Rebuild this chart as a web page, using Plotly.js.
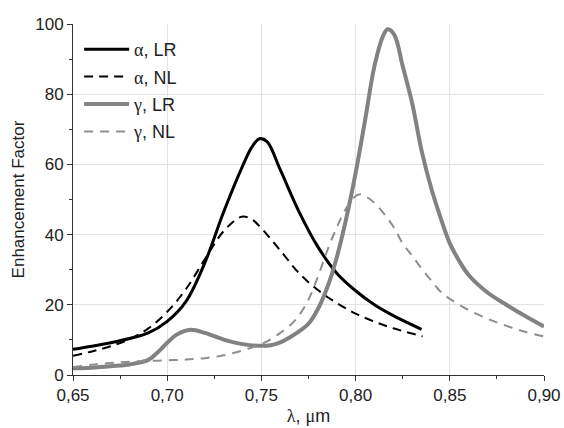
<!DOCTYPE html>
<html><head><meta charset="utf-8">
<script src="https://cdn.plot.ly/plotly-3.0.1.min.js"></script>
<style>html,body{margin:0;padding:0;background:#fff;}#chart{width:564px;height:428px;}</style>
</head><body><div id="chart"></div>
<script>
// α, LR (black solid)
const aLR_x = [0.65,0.66,0.67,0.68,0.69,0.70,0.71,0.72,0.73,0.74,0.745,0.749,0.753,0.76,0.77,0.78,0.79,0.80,0.81,0.82,0.835];
const aLR_y = [7.3,8.2,9.2,10.4,12.0,15.3,21.0,32.0,46.5,59.5,65.0,67.3,66.5,58.5,46.5,36.5,29.0,24.0,20.0,16.9,13.0];
// α, NL (black dashed)
const aNL_x = [0.65,0.66,0.67,0.68,0.69,0.70,0.71,0.72,0.73,0.7395,0.745,0.75,0.76,0.77,0.78,0.79,0.80,0.81,0.82,0.8356];
const aNL_y = [5.5,6.7,8.2,10.2,13.3,18.0,24.5,33.0,41.0,45.1,44.3,41.8,35.5,29.0,24.2,20.5,17.5,15.2,13.3,11.0];
// γ, LR (grey solid)
const gLR_x = [0.65,0.66,0.67,0.68,0.69,0.695,0.70,0.705,0.7125,0.72,0.73,0.74,0.75,0.755,0.76,0.765,0.77,0.775,0.78,0.785,0.79,0.795,0.80,0.805,0.81,0.8145,0.817,0.8205,0.825,0.83,0.835,0.84,0.845,0.85,0.855,0.86,0.87,0.88,0.89,0.90];
const gLR_y = [1.9,2.1,2.5,3.0,4.3,6.5,9.2,11.5,12.9,12.0,10.1,8.8,8.3,8.5,9.3,10.7,12.4,14.6,18.8,25.0,33.5,44.5,57.5,72.5,88.0,96.5,98.5,97.0,88.0,77.5,64.0,53.5,45.0,37.5,32.5,28.5,23.5,20.0,16.8,13.8];
// γ, NL (grey dashed)
const gNL_x = [0.65,0.66,0.67,0.68,0.69,0.70,0.71,0.72,0.73,0.74,0.75,0.755,0.76,0.765,0.77,0.775,0.78,0.785,0.79,0.795,0.80,0.8025,0.806,0.81,0.815,0.82,0.825,0.83,0.835,0.84,0.845,0.85,0.86,0.87,0.88,0.89,0.90];
const gNL_y = [2.3,2.9,3.4,3.8,4.0,4.2,4.4,4.8,5.6,7.0,8.8,10.2,12.0,14.0,17.0,21.5,28.0,35.5,42.0,47.5,51.0,51.5,50.7,49.0,46.0,42.3,37.5,34.0,30.3,27.0,23.8,21.7,18.5,16.0,14.0,12.3,11.0];
// grid / tick positions
const xGrid = [0.70,0.75,0.80,0.85];
const yGrid = [20,40,60,80];

const serif = s => `<span style="font-family:'Liberation Serif',serif">${s}</span>`;
const base = {type:'scatter', mode:'lines', hoverinfo:'skip'};
const traces = [
  Object.assign({}, base, {x:aLR_x, y:aLR_y, name:serif('α')+', LR', legendgroup:'a', line:{color:'#000000', width:3, shape:'spline', smoothing:1}}),
  Object.assign({}, base, {x:aNL_x, y:aNL_y, name:serif('α')+', NL', legendgroup:'b', line:{color:'#000000', width:2, dash:'9px,6px', shape:'spline', smoothing:1}}),
  Object.assign({}, base, {x:gLR_x, y:gLR_y, name:serif('γ')+', LR', legendgroup:'c', line:{color:'#828282', width:4, shape:'spline', smoothing:1}}),
  Object.assign({}, base, {x:gNL_x, y:gNL_y, name:serif('γ')+', NL', legendgroup:'d', line:{color:'#8e8e8e', width:2, dash:'9px,7px', shape:'spline', smoothing:1}}),
  {type:'scatter', x:[], y:[], xaxis:'x2', yaxis:'y2', showlegend:false, hoverinfo:'skip'}
];
const font = {family:"'Liberation Sans', Arial, sans-serif", color:'#222'};
const layout = {
  width:564, height:428,
  margin:{l:73, r:20, t:24, b:53},
  paper_bgcolor:'#fff', plot_bgcolor:'rgba(0,0,0,0)',
  separators:', ',
  font:font,
  showlegend:true,
  legend:{x:0.013, y:0.98, xanchor:'left', yanchor:'top', bgcolor:'rgba(0,0,0,0)', font:{size:18, family:font.family, color:'#222'}, tracegroupgap:1, itemwidth:45},
  xaxis:{range:[0.65,0.90], showgrid:false, zeroline:false, showline:true, linecolor:'#333', linewidth:1,
    tickmode:'linear', tick0:0.65, dtick:0.05, tickformat:'.2f', ticks:'outside', ticklen:5, tickcolor:'#333',
    minor:{dtick:0.025, tick0:0.65, ticks:'outside', ticklen:3, tickcolor:'#333', showgrid:false},
    tickfont:{size:17}, title:{text:serif('λ')+', '+serif('μ')+'m', font:{size:18}, standoff:4}},
  yaxis:{range:[0,100], showgrid:false, zeroline:false, showline:true, linecolor:'#333', linewidth:1,
    tickmode:'linear', tick0:0, dtick:20, ticks:'outside', ticklen:5, tickcolor:'#333',
    minor:{dtick:10, tick0:0, ticks:'outside', ticklen:3, tickcolor:'#333', showgrid:false},
    tickfont:{size:17}, title:{text:'Enhancement Factor', font:{size:17}, standoff:6}},
  xaxis2:{overlaying:'x', range:[0.65,0.90], tickmode:'array', tickvals:xGrid, showticklabels:false, ticks:'', showline:false, zeroline:false, showgrid:true, gridcolor:'#e2e2e2', gridwidth:1},
  yaxis2:{overlaying:'y', range:[0,100], tickmode:'array', tickvals:yGrid, showticklabels:false, ticks:'', showline:false, zeroline:false, showgrid:true, gridcolor:'#e2e2e2', gridwidth:1}
};
function stretchLegendLines(){
  var gd = document.getElementById('chart');
  gd.querySelectorAll('.legendlines path').forEach(function(p){
    if (p.getAttribute('d')) p.setAttribute('d','M5,0h45');
  });
}
var gd = document.getElementById('chart');
var pr = Plotly.newPlot(gd, traces, layout, {staticPlot:true, displayModeBar:false});
stretchLegendLines();
pr.then(function(){
  stretchLegendLines();
  requestAnimationFrame(stretchLegendLines);
  setTimeout(stretchLegendLines, 0);
});
gd.on && gd.on('plotly_afterplot', stretchLegendLines);
</script></body></html>
